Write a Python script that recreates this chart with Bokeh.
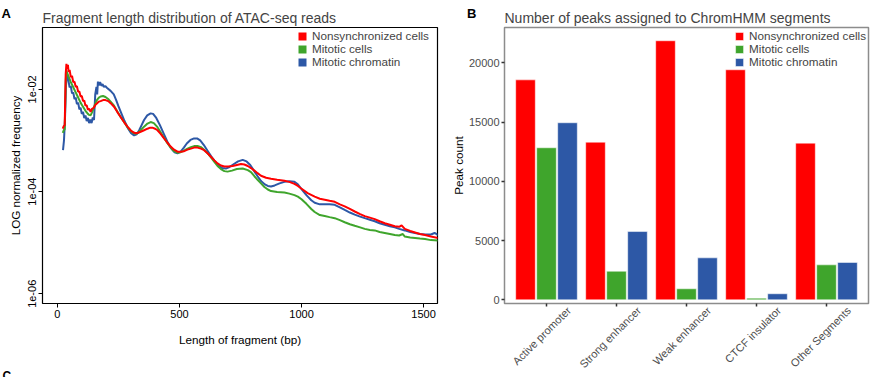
import math
from bokeh.plotting import figure
from bokeh.models import (Range1d, FixedTicker, Legend, LegendItem, Label,
                          CustomJSTickFormatter, ColumnDataSource)
from bokeh.layouts import row
from bokeh.transform import dodge
from bokeh.embed import file_html
from bokeh.resources import INLINE

FONT = "Liberation Sans"
RED = "#FF0000"
GREEN = "#3FA52C"
BLUE = "#2D58A6"

# ---------------- Panel A data: (fragment length bp, log10 normalized frequency)
series_names = ["Nonsynchronized cells", "Mitotic cells", "Mitotic chromatin"]

nonsync_curve = [
    (22, -2.77), (26, -2.72), (30, -2.70), (34, -1.70), (37, -1.50), (40, -1.60), (43, -1.52),
    (46, -1.66), (50, -1.62), (55, -1.76), (60, -1.74), (65, -1.86), (70, -1.85), (75, -1.95),
    (80, -1.94), (85, -2.05), (90, -2.04), (95, -2.14), (100, -2.13), (105, -2.23), (110, -2.22),
    (115, -2.32), (120, -2.31), (125, -2.40), (130, -2.38), (136, -2.44), (142, -2.38), (149, -2.36),
    (156, -2.30), (163, -2.27), (170, -2.24), (177, -2.23), (187, -2.21), (197, -2.21), (208, -2.23),
    (218, -2.27), (232, -2.34), (245, -2.44), (259, -2.54), (273, -2.64), (287, -2.73), (300, -2.80),
    (310, -2.84), (321, -2.86), (331, -2.85), (341, -2.83), (355, -2.80), (369, -2.77), (380, -2.75),
    (389, -2.75), (400, -2.77), (410, -2.80), (423, -2.87), (437, -2.96), (450, -3.04), (464, -3.12),
    (478, -3.18), (492, -3.22), (505, -3.22), (519, -3.21), (533, -3.18), (547, -3.16), (560, -3.14),
    (574, -3.14), (588, -3.16), (601, -3.19), (615, -3.25), (629, -3.32), (643, -3.39), (656, -3.45),
    (670, -3.49), (684, -3.51), (700, -3.51), (718, -3.50), (735, -3.48), (752, -3.46), (766, -3.47),
    (780, -3.50), (793, -3.54), (807, -3.59), (820, -3.64), (834, -3.69), (855, -3.73), (875, -3.75),
    (900, -3.77), (930, -3.79), (950, -3.81), (971, -3.85), (985, -3.89), (999, -3.94), (1025, -4.03),
    (1054, -4.10), (1075, -4.14), (1095, -4.16), (1115, -4.18), (1136, -4.20), (1157, -4.25),
    (1177, -4.29), (1198, -4.34), (1218, -4.39), (1240, -4.44), (1259, -4.48), (1280, -4.51),
    (1300, -4.54), (1320, -4.58), (1341, -4.62), (1362, -4.65), (1382, -4.68), (1400, -4.69),
    (1410, -4.66), (1423, -4.73), (1445, -4.77), (1465, -4.80), (1485, -4.83), (1506, -4.85),
    (1530, -4.88), (1560, -4.91), (1575, -4.92),
]

mitotic_cells_curve = [
    (22, -2.85), (26, -2.80), (30, -2.78), (34, -1.85), (37, -1.63), (40, -1.68), (45, -1.74),
    (50, -1.80), (55, -1.86), (60, -1.91), (65, -1.96), (70, -2.01), (75, -2.06), (80, -2.11),
    (85, -2.16), (90, -2.21), (95, -2.26), (100, -2.30), (105, -2.34), (110, -2.38), (115, -2.42),
    (120, -2.45), (125, -2.48), (130, -2.50), (136, -2.51), (142, -2.45), (149, -2.36), (156, -2.27),
    (163, -2.20), (170, -2.16), (177, -2.14), (187, -2.13), (197, -2.15), (208, -2.19), (218, -2.24),
    (232, -2.32), (245, -2.43), (259, -2.54), (273, -2.64), (287, -2.74), (300, -2.81), (310, -2.85),
    (321, -2.87), (331, -2.85), (341, -2.80), (355, -2.73), (369, -2.67), (382, -2.64), (395, -2.66),
    (410, -2.74), (423, -2.84), (437, -2.95), (450, -3.05), (464, -3.14), (478, -3.21), (492, -3.24),
    (505, -3.23), (519, -3.20), (533, -3.16), (547, -3.13), (560, -3.11), (574, -3.11), (588, -3.13),
    (601, -3.18), (615, -3.25), (629, -3.33), (643, -3.42), (656, -3.50), (670, -3.56), (684, -3.60),
    (697, -3.61), (715, -3.59), (735, -3.56), (759, -3.55), (780, -3.58), (793, -3.62), (807, -3.70),
    (820, -3.77), (834, -3.84), (848, -3.91), (862, -3.96), (875, -3.99), (900, -4.01), (930, -4.02),
    (950, -4.04), (971, -4.07), (985, -4.10), (1000, -4.15), (1020, -4.24), (1040, -4.34),
    (1054, -4.40), (1075, -4.46), (1095, -4.48), (1115, -4.50), (1136, -4.52), (1157, -4.56),
    (1177, -4.60), (1198, -4.64), (1218, -4.67), (1240, -4.70), (1259, -4.73), (1280, -4.75),
    (1300, -4.76), (1320, -4.79), (1341, -4.81), (1362, -4.83), (1382, -4.85), (1400, -4.86),
    (1415, -4.83), (1423, -4.88), (1445, -4.90), (1465, -4.91), (1485, -4.92), (1506, -4.93),
    (1530, -4.95), (1560, -4.96), (1575, -4.96),
]

mitotic_chromatin_curve = [
    (23, -3.19), (27, -3.00), (31, -2.60), (35, -1.95), (38, -1.76), (41, -1.72), (45, -1.82),
    (50, -1.96), (55, -1.94), (60, -2.08), (65, -2.06), (70, -2.19), (75, -2.16), (80, -2.29),
    (85, -2.26), (90, -2.39), (95, -2.36), (100, -2.48), (105, -2.44), (110, -2.56), (115, -2.51),
    (120, -2.62), (125, -2.56), (130, -2.66), (135, -2.59), (140, -2.66), (145, -2.55), (150, -2.60),
    (155, -2.10), (160, -1.95), (163, -2.10), (166, -1.85), (170, -1.92), (175, -1.86), (180, -1.93),
    (185, -1.90), (190, -1.95), (197, -1.94), (205, -1.98), (218, -2.03), (231, -2.10), (240, -2.20),
    (250, -2.33), (262, -2.47), (275, -2.62), (290, -2.77), (302, -2.86), (314, -2.90), (325, -2.88),
    (335, -2.80), (345, -2.70), (355, -2.60), (368, -2.51), (382, -2.47), (392, -2.48), (405, -2.56),
    (420, -2.70), (435, -2.86), (450, -3.02), (465, -3.15), (480, -3.23), (492, -3.25), (505, -3.22),
    (518, -3.14), (530, -3.06), (545, -2.99), (560, -2.96), (572, -2.96), (585, -3.00), (600, -3.09),
    (615, -3.20), (630, -3.31), (645, -3.41), (660, -3.49), (675, -3.54), (690, -3.55), (705, -3.52),
    (720, -3.47), (740, -3.41), (759, -3.38), (775, -3.41), (790, -3.48), (805, -3.59), (820, -3.70),
    (835, -3.80), (850, -3.86), (862, -3.89), (875, -3.90), (890, -3.88), (910, -3.84), (930, -3.81),
    (950, -3.80), (971, -3.81), (985, -3.86), (1000, -3.95), (1020, -4.07), (1040, -4.17),
    (1054, -4.22), (1075, -4.25), (1095, -4.25), (1115, -4.25), (1136, -4.26), (1157, -4.31),
    (1177, -4.36), (1198, -4.41), (1218, -4.45), (1240, -4.49), (1259, -4.52), (1280, -4.55),
    (1300, -4.58), (1320, -4.62), (1341, -4.65), (1362, -4.68), (1382, -4.70), (1400, -4.73),
    (1423, -4.76), (1445, -4.79), (1465, -4.81), (1485, -4.83), (1506, -4.84), (1530, -4.84),
    (1545, -4.81), (1560, -4.85), (1575, -4.85),
]

a_xticks = [0, 500, 1000, 1500]
a_yticks = [-6, -4, -2]
a_ytick_labels = ["1e-06", "1e-04", "1e-02"]

# ---------------- Panel B data
segments = ["Active promoter", "Strong enhancer", "Weak enhancer", "CTCF insulator", "Other Segments"]
peaks_nonsync = [18560, 13300, 21860, 19410, 13220]
peaks_mitotic_cells = [12830, 2410, 930, 140, 2950]
peaks_mitotic_chromatin = [14940, 5760, 3540, 510, 3150]
b_yticks = [0, 5000, 10000, 15000, 20000]

colors = [RED, GREEN, BLUE]

# ================= Panel A =================
pA = figure(width=439, height=377, x_range=Range1d(-61, 1557), y_range=Range1d(-6.19, -0.79),
            output_backend="svg", toolbar_location=None,
            min_border_left=42, min_border_right=2, min_border_top=27, min_border_bottom=73)
pA.background_fill_color = "white"
pA.border_fill_color = "white"
pA.outline_line_color = "black"
pA.outline_line_width = 1.2
pA.grid.visible = False

pA.title.text = "Fragment length distribution of ATAC-seq reads"
pA.title.text_font = FONT
pA.title.text_font_size = "14px"
pA.title.text_font_style = "normal"
pA.title.align = "left"
pA.title.standoff = 4

legend_renderers = []
for curve, col in [(mitotic_chromatin_curve, BLUE), (mitotic_cells_curve, GREEN), (nonsync_curve, RED)]:
    src = ColumnDataSource(dict(x=[c[0] for c in curve], y=[c[1] for c in curve]))
    pA.line("x", "y", source=src, line_color=col, line_width=2)
    # zero-height bars on the same data: invisible in the plot, give square legend swatches
    legend_renderers.append(pA.vbar(x="x", top="y", bottom="y", width=0, source=src,
                                    fill_color=col, line_color=None))
legend_renderers = legend_renderers[::-1]  # red, green, blue

pA.xaxis.ticker = FixedTicker(ticks=a_xticks)
pA.yaxis.ticker = FixedTicker(ticks=a_yticks)
pA.yaxis.major_label_overrides = {t: l for t, l in zip(a_yticks, a_ytick_labels)}
pA.yaxis.major_label_orientation = "vertical"
pA.xaxis.axis_label = "Length of fragment (bp)"
pA.yaxis.axis_label = "LOG normalized frequency"
for ax in (pA.xaxis[0], pA.yaxis[0]):
    ax.axis_line_color = None
    ax.major_tick_out = 4
    ax.major_tick_in = 0
    ax.major_tick_line_color = "black"
    ax.minor_tick_line_color = None
    ax.major_label_text_font = FONT
    ax.major_label_text_font_size = "11px"
    ax.major_label_text_color = "black"
    ax.major_label_standoff = 2
    ax.axis_label_text_font = FONT
    ax.axis_label_text_font_size = "11.7px"
    ax.axis_label_text_font_style = "normal"
    ax.axis_label_text_color = "black"
pA.xaxis.axis_label_standoff = 12
pA.yaxis.axis_label_standoff = 4

legA = Legend(items=[LegendItem(label=n, renderers=[r]) for n, r in zip(series_names, legend_renderers)],
              location="top_right", margin=2, padding=4, spacing=0,
              glyph_width=10, glyph_height=10, label_standoff=5, label_width=123,
              label_text_font=FONT, label_text_font_size="11.7px",
              border_line_color=None, background_fill_alpha=0)
pA.add_layout(legA)

# panel letters, placed in side panels so they are not clipped to the frame
pA.add_layout(Label(x=-210, y=-0.51, text="A", text_font=FONT, text_font_size="13px",
                    text_font_style="bold", text_align="center", text_baseline="middle",
                    text_color="black"), "below")
pA.add_layout(Label(x=-207, y=-7.60, text="C", text_font=FONT, text_font_size="12px",
                    text_font_style="bold", text_align="center", text_baseline="middle",
                    text_color="black"), "below")

# ================= Panel B =================
SHIFT = 0.32
pB = figure(width=433, height=377, x_range=Range1d(0.4, 5.6), y_range=Range1d(-312, 22979),
            output_backend="svg", toolbar_location=None,
            min_border_left=62, min_border_right=4, min_border_top=27, min_border_bottom=74)
pB.background_fill_color = "white"
pB.border_fill_color = "white"
pB.outline_line_color = "#8C8C8C"
pB.outline_line_width = 1.5
pB.grid.visible = False

pB.title.text = "Number of peaks assigned to ChromHMM segments"
pB.title.text_font = FONT
pB.title.text_font_size = "14px"
pB.title.text_font_style = "normal"
pB.title.align = "left"
pB.title.standoff = 4

bsrc = ColumnDataSource(dict(x=list(range(1, len(segments) + 1)), nonsync=peaks_nonsync,
                             cells=peaks_mitotic_cells, chrom=peaks_mitotic_chromatin))
bars = []
for key, off, col in [("nonsync", -0.3, RED), ("cells", 0.0, GREEN), ("chrom", 0.3, BLUE)]:
    bars.append(pB.vbar(x=dodge("x", off), top=key, bottom=0, width=0.28, source=bsrc,
                        fill_color=col, line_color="white", line_alpha=0.5, line_width=1))

cat_pos = list(range(1, len(segments) + 1))
pB.xaxis.ticker = FixedTicker(ticks=[c + SHIFT for c in cat_pos], minor_ticks=cat_pos)
pB.xaxis.formatter = CustomJSTickFormatter(args=dict(labels=segments, shift=SHIFT),
                                           code="return labels[Math.round(tick - shift) - 1]")
pB.xaxis.major_label_orientation = math.pi / 4
pB.xaxis.major_tick_line_color = None
pB.xaxis.major_tick_out = 0
pB.xaxis.major_tick_in = 0
pB.xaxis.minor_tick_out = 3
pB.xaxis.minor_tick_in = 0
pB.xaxis.minor_tick_line_color = "#333333"
pB.xaxis.minor_tick_line_width = 1.5

pB.yaxis.ticker = FixedTicker(ticks=b_yticks)
pB.yaxis.major_tick_out = 3
pB.yaxis.major_tick_in = 0
pB.yaxis.major_tick_line_color = "#333333"
pB.yaxis.major_tick_line_width = 1.5
pB.yaxis.minor_tick_line_color = None
pB.yaxis.axis_label = "Peak count"
pB.yaxis.axis_label_standoff = 1
for ax in (pB.xaxis[0], pB.yaxis[0]):
    ax.axis_line_color = None
    ax.major_label_text_font = FONT
    ax.major_label_text_font_size = "11px"
    ax.major_label_text_color = "#4D4D4D"
    ax.major_label_standoff = 2
    ax.axis_label_text_font = FONT
    ax.axis_label_text_font_size = "11.7px"
    ax.axis_label_text_font_style = "normal"
    ax.axis_label_text_color = "black"

legB = Legend(items=[LegendItem(label=n, renderers=[r]) for n, r in zip(series_names, bars)],
              location="top_right", margin=2, padding=5, spacing=0,
              glyph_width=10, glyph_height=10, label_standoff=5, label_width=115,
              label_text_font=FONT, label_text_font_size="11.7px",
              border_line_color=None, background_fill_alpha=0)
pB.add_layout(legB)

pB.add_layout(Label(x=-0.07, y=24160, text="B", text_font=FONT, text_font_size="13px",
                    text_font_style="bold", text_align="center", text_baseline="middle",
                    text_color="black"), "left")

layout = row(pA, pB)
open("out.html", "w").write(file_html(layout, INLINE))
